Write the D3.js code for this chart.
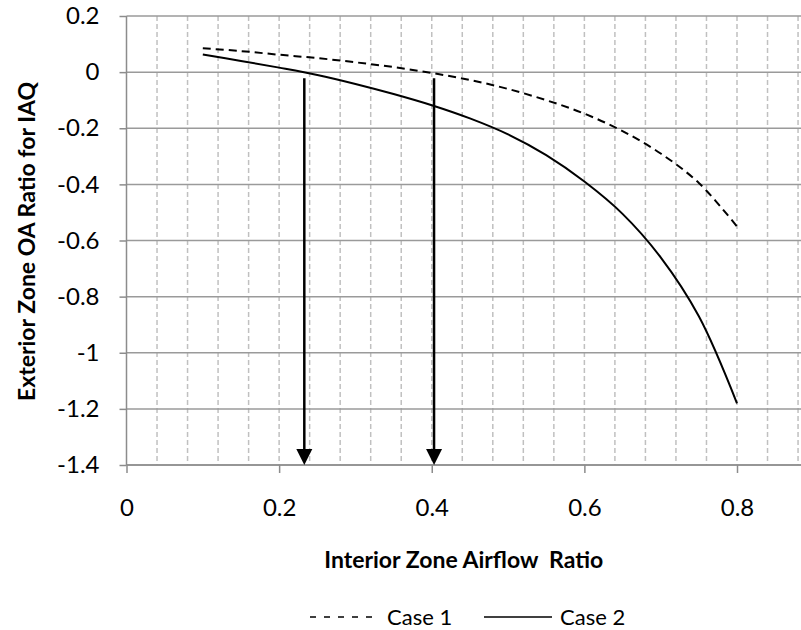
<!DOCTYPE html>
<html lang="en">
<head>
<meta charset="utf-8">
<title>Exterior Zone OA Ratio</title>
<script src="https://cdn.jsdelivr.net/npm/d3@7"></script>
<style>
body { margin: 0; background: #fff; }
text { font-family: Lato, "Noto Sans", sans-serif; fill: #000; }
.tick text { font-size: 24px; }
.title { font-size: 23px; font-weight: bold; white-space: pre; }
</style>
</head>
<body>
<script>
// data
var xs = [0.10, 0.15, 0.20, 0.25, 0.30, 0.35, 0.40, 0.45, 0.50, 0.55, 0.60, 0.65, 0.70, 0.75, 0.80];
var case1 = [0.085, 0.075, 0.062, 0.050, 0.035, 0.018, -0.003, -0.028, -0.060, -0.100, -0.148, -0.210, -0.290, -0.395, -0.550];
var case2 = [0.063, 0.040, 0.016, -0.010, -0.042, -0.078, -0.118, -0.165, -0.222, -0.296, -0.390, -0.505, -0.660, -0.870, -1.180];
var arrowX = [0.233, 0.403];
var arrowTop = -0.022;
var xTicks = [0, 0.2, 0.4, 0.6, 0.8];
var yTicks = [0.2, 0, -0.2, -0.4, -0.6, -0.8, -1, -1.2, -1.4];
var seriesNames = ["Case 1", "Case 2"];

var W = 801, H = 630;
var pLeft = 126.5, pRight = 801, pTop = 16, pBottom = 465;

var svg = d3.select("body").append("svg").attr("width", W).attr("height", H);

var x = d3.scaleLinear().domain([0, 0.8]).range([pLeft, 737]);
var y = d3.scaleLinear().domain([-1.4, 0.2]).range([pBottom, pTop]);

// minor vertical grid, dashed
var xMax = x.invert(pRight);
var vgrid = d3.range(1, Math.floor(xMax / 0.04) + 1).map(function(k){ return k * 0.04; });
svg.append("g").selectAll("line").data(vgrid).enter().append("line")
  .attr("x1", function(d){ return x(d); }).attr("x2", function(d){ return x(d); })
  .attr("y1", pTop).attr("y2", pBottom)
  .attr("stroke", "#c0c0c0").attr("stroke-width", 1.5).attr("stroke-dasharray", "5,3");

// horizontal grid
svg.append("g").selectAll("line").data(yTicks).enter().append("line")
  .attr("x1", pLeft).attr("x2", pRight)
  .attr("y1", function(d){ return y(d); }).attr("y2", function(d){ return y(d); })
  .attr("stroke", "#9a9a9a").attr("stroke-width", 1.5);

// axes
var fmt = function(d){ return String(+d.toFixed(1)); };
var yAxis = svg.append("g").attr("transform", "translate(" + pLeft + ",0)")
  .call(d3.axisLeft(y).tickValues(yTicks).tickSize(7).tickPadding(20).tickFormat(fmt));
var xAxis = svg.append("g").attr("transform", "translate(0," + pBottom + ")")
  .call(d3.axisBottom(x).tickValues(xTicks).tickSize(8).tickPadding(26).tickFormat(fmt));
[yAxis, xAxis].forEach(function(a){
  a.attr("font-family", null).attr("font-size", null);
  a.select(".domain").attr("stroke", "#8c8c8c").attr("stroke-width", 1.5);
  a.selectAll(".tick line").attr("stroke", "#8c8c8c").attr("stroke-width", 1.5);
});
xAxis.select(".domain").attr("d", "M" + pLeft + ",0H" + pRight);
yAxis.select(".domain").attr("d", "M0," + pTop + "V" + pBottom);

// curves
var line = d3.line().x(function(d){ return x(d[0]); }).y(function(d){ return y(d[1]); }).curve(d3.curveCatmullRom.alpha(0.5));
svg.append("path").datum(d3.zip(xs, case1)).attr("d", line)
  .attr("fill", "none").attr("stroke", "#000").attr("stroke-width", 2).attr("stroke-dasharray", "8,5");
svg.append("path").datum(d3.zip(xs, case2)).attr("d", line)
  .attr("fill", "none").attr("stroke", "#000").attr("stroke-width", 2);

// arrows
var ah = 16, aw = 8;
var arrows = svg.append("g").selectAll("g").data(arrowX).enter().append("g");
arrows.append("line")
  .attr("x1", function(d){ return x(d); }).attr("x2", function(d){ return x(d); })
  .attr("y1", y(arrowTop)).attr("y2", y(-1.4) - ah + 1)
  .attr("stroke", "#000").attr("stroke-width", 2.5);
arrows.append("path")
  .attr("d", function(d){
    var cx = x(d), ty = y(-1.4);
    return "M" + (cx - aw) + "," + (ty - ah) + "L" + (cx + aw) + "," + (ty - ah) + "L" + cx + "," + ty + "Z";
  })
  .attr("fill", "#000");

// axis titles
svg.append("text").attr("class", "title")
  .attr("x", (pLeft + pRight) / 2).attr("y", 568).attr("text-anchor", "middle")
  .text("Interior Zone Airflow  Ratio");
svg.append("text").attr("class", "title")
  .attr("transform", "translate(35," + ((pTop + pBottom) / 2 + 1) + ") rotate(-90)")
  .attr("text-anchor", "middle")
  .text("Exterior Zone OA Ratio for IAQ");

// legend
var legY = 617;
var leg = [
  {x1: 310, x2: 374, tx: 387, dash: "6,8"},
  {x1: 484, x2: 552, tx: 560, dash: null}
];
leg.forEach(function(l, i){
  svg.append("line").attr("x1", l.x1).attr("x2", l.x2).attr("y1", legY).attr("y2", legY)
    .attr("stroke", "#000").attr("stroke-width", 1.5).attr("stroke-dasharray", l.dash);
  svg.append("text").attr("x", l.tx).attr("y", legY + 8).attr("font-size", 22).text(seriesNames[i]);
});
</script>
</body>
</html>
